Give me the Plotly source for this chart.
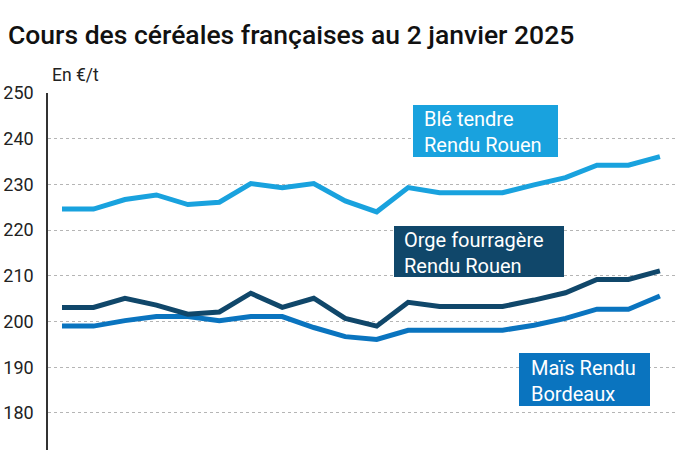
import plotly.graph_objects as go

# Data, 20 weekly points
x_idx = list(range(20))
ble = [224.6, 224.6, 226.7, 227.7, 225.6, 226.1, 230.2, 229.3, 230.2, 226.4,
       224.0, 229.3, 228.2, 228.2, 228.2, 229.9, 231.5, 234.2, 234.2, 236.1]
orge = [203.1, 203.1, 205.1, 203.6, 201.6, 202.1, 206.2, 203.1, 205.1, 200.7,
        199.0, 204.2, 203.3, 203.3, 203.3, 204.7, 206.3, 209.2, 209.2, 211.1]
mais = [199.0, 199.0, 200.2, 201.1, 201.1, 200.2, 201.1, 201.1, 198.7, 196.7,
        196.1, 198.1, 198.1, 198.1, 198.1, 199.2, 200.7, 202.7, 202.7, 205.6]
y_ticks = [180, 190, 200, 210, 220, 230, 240, 250]

title = "Cours des céréales françaises au 2 janvier 2025"
unit = "En €/t"
labels = {
    "ble": ["Blé tendre", "Rendu Rouen"],
    "orge": ["Orge fourragère", "Rendu Rouen"],
    "mais": ["Maïs Rendu", "Bordeaux"],
}

C_BLE = "#19a2de"
C_ORGE = "#10476a"
C_MAIS = "#0a74bf"

W, H = 700, 450
L, R, T, B = 48, 25, 93, 0
PW, PH = W - L - R, H - T - B

def px(xp):
    return (xp - L) / PW

def py(yp):
    return (H - B - yp) / PH

fig = go.Figure()
for vals, col in [(mais, C_MAIS), (orge, C_ORGE), (ble, C_BLE)]:
    fig.add_trace(go.Scatter(x=x_idx, y=vals, mode="lines",
                             line=dict(color=col, width=5),
                             hoverinfo="skip", showlegend=False))

shapes = []
annotations = []
boxes = [
    ("ble", C_BLE, (413, 105, 558, 157), 422),
    ("orge", C_ORGE, (394, 226, 564, 277), 402),
    ("mais", C_MAIS, (519, 353, 650, 406), 529),
]
for key, col, (x0, y0, x1, y1), tx in boxes:
    shapes.append(dict(type="rect", xref="paper", yref="paper",
                       x0=px(x0), x1=px(x1), y0=py(y1), y1=py(y0),
                       fillcolor=col, line=dict(width=0), layer="above"))
    annotations.append(dict(text="<br>".join(labels[key]), xref="paper", yref="paper",
                            x=px(tx), y=py((y0 + y1) / 2 + 1), xanchor="left",
                            yanchor="middle", align="left", showarrow=False,
                            font=dict(family="Roboto", size=20, color="white")))

annotations.append(dict(text=unit, xref="paper", yref="paper",
                        x=px(50), y=py(87), xanchor="left", yanchor="bottom",
                        showarrow=False,
                        font=dict(family="Roboto", size=17.5, color="#222")))

fig.update_layout(
    width=W, height=H,
    margin=dict(l=L, r=R, t=T, b=B, pad=0, autoexpand=False),
    paper_bgcolor="white", plot_bgcolor="white",
    title=dict(text=title, x=8 / W, xanchor="left", y=1 - 35 / H, yanchor="middle",
               font=dict(family="Roboto", size=26.5, color="#111", weight=500)),
    xaxis=dict(range=[-0.445, 19.48], visible=False, fixedrange=True, automargin=False),
    yaxis=dict(range=[171.9, 250], tickvals=y_ticks, ticktext=[str(v) for v in y_ticks],
               showgrid=True, gridcolor="#b5b5b5", griddash="dot", gridwidth=1,
               showline=True, linecolor="#333", linewidth=1.5,
               ticks="", ticklabelstandoff=9, zeroline=False, automargin=False,
               tickfont=dict(family="Roboto", size=18, color="#222"),
               fixedrange=True),
    shapes=shapes, annotations=annotations,
)
fig.write_html("out.html", config={"displayModeBar": False},
               post_script="document.body.style.margin='0';document.body.style.overflow='hidden';")
